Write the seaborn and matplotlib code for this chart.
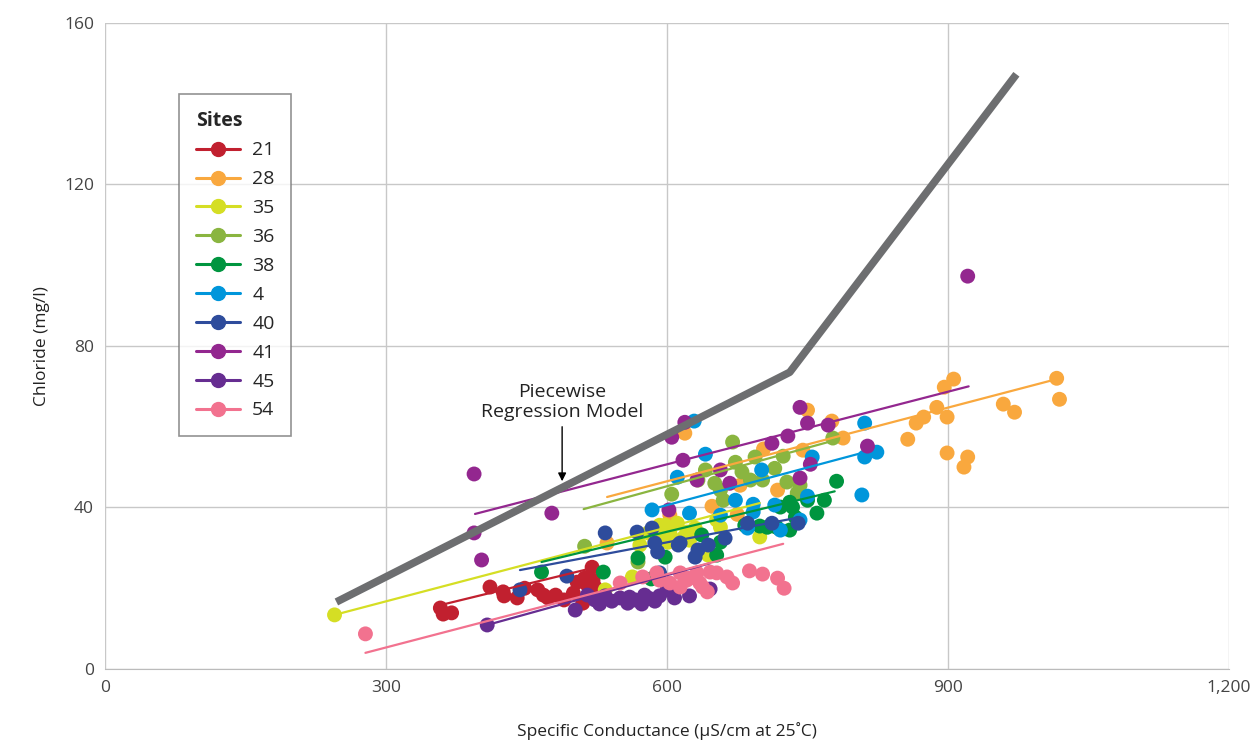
import pandas as pd
import numpy as np
import matplotlib
matplotlib.use('Agg')
import matplotlib.pyplot as plt
import seaborn as sns
from matplotlib.lines import Line2D

# Site order and colours as in the legend
sites = ['21', '28', '35', '36', '38', '4', '40', '41', '45', '54']
site_colors = ['#C1202F', '#F9A83E', '#D5DE24', '#8AB540', '#00953F',
               '#0096DB', '#2E4C9C', '#93278F', '#662D91', '#F2728F']

# Measured points (specific conductance, chloride) by site
sc_21 = [358, 361, 370, 411, 425, 426, 440, 448, 462, 468, 473, 481, 490, 500, 510, 512, 520, 515, 523, 521, 504]
cl_21 = [15.1, 13.6, 13.9, 20.3, 19.1, 18.1, 17.6, 20.0, 19.6, 18.3, 17.6, 18.3, 17.1, 18.8, 16.3, 22.5, 25.2, 20.8, 20.3, 22.0, 21.5]

sc_28 = [536, 603, 619, 648, 675, 678, 703, 718, 745, 750, 776, 788, 857, 866, 874, 888, 896, 906, 899, 899, 917, 921, 959, 971, 1016, 1019]
cl_28 = [31.2, 38.1, 58.4, 40.3, 38.3, 45.5, 54.5, 44.3, 54.2, 64.1, 61.4, 57.2, 56.9, 60.9, 62.4, 64.8, 69.8, 71.8, 62.4, 53.5, 50.0, 52.5, 65.6, 63.6, 72.0, 66.8]

sc_35 = [245, 534, 563, 580, 592, 596, 601, 611, 621, 624, 617, 630, 653, 657, 644, 603, 699, 587, 598, 571]
cl_35 = [13.4, 19.6, 22.8, 33.7, 35.6, 32.4, 31.4, 36.1, 33.9, 31.9, 32.4, 34.9, 36.9, 35.1, 28.2, 33.7, 32.7, 31.9, 35.6, 30.7]

sc_36 = [512, 569, 605, 633, 651, 670, 673, 680, 694, 702, 715, 724, 728, 739, 777, 657, 660, 689, 641, 742]
cl_36 = [30.4, 26.5, 43.3, 46.8, 46.0, 56.2, 51.2, 48.8, 52.5, 46.8, 49.7, 52.7, 46.3, 43.6, 57.2, 44.3, 41.8, 46.8, 49.3, 45.5]

sc_38 = [466, 532, 569, 583, 598, 653, 657, 637, 683, 699, 707, 717, 721, 731, 734, 737, 750, 760, 768, 781, 731]
cl_38 = [24.0, 24.0, 27.5, 22.3, 27.7, 28.2, 31.4, 33.2, 35.6, 35.4, 35.1, 35.1, 40.1, 41.3, 40.1, 37.6, 41.8, 38.6, 41.8, 46.5, 34.4]

sc_4 = [584, 611, 641, 629, 624, 692, 701, 692, 686, 721, 742, 750, 755, 811, 808, 811, 824, 657, 673, 715]
cl_4 = [39.4, 47.5, 53.2, 61.4, 38.6, 40.8, 49.3, 38.9, 34.9, 34.4, 36.9, 42.8, 52.5, 60.9, 43.1, 52.5, 53.7, 38.1, 41.8, 40.6]

sc_40 = [443, 493, 534, 568, 584, 587, 590, 614, 630, 633, 644, 662, 686, 592, 712, 740, 612]
cl_40 = [19.6, 23.0, 33.7, 33.9, 34.9, 31.2, 29.0, 31.2, 27.7, 29.5, 30.7, 32.4, 36.1, 23.8, 36.1, 36.1, 30.7]

sc_41 = [394, 394, 402, 477, 921, 605, 617, 619, 742, 750, 729, 712, 772, 814, 753, 742, 657, 632, 667, 602]
cl_41 = [33.7, 48.3, 27.0, 38.6, 97.3, 57.4, 51.7, 61.1, 64.8, 60.9, 57.7, 55.9, 60.4, 55.2, 50.7, 47.3, 49.3, 46.8, 46.0, 39.4]

sc_45 = [408, 502, 515, 523, 534, 541, 550, 558, 566, 573, 580, 587, 592, 600, 608, 624, 646, 528, 560, 576]
cl_45 = [10.9, 14.6, 18.3, 17.1, 18.1, 16.8, 17.6, 16.3, 17.1, 16.1, 17.6, 16.8, 18.1, 19.6, 17.6, 18.1, 19.8, 16.1, 17.8, 18.3]

sc_54 = [278, 550, 574, 589, 603, 614, 621, 632, 638, 646, 653, 664, 670, 688, 702, 718, 725, 643, 635, 614, 592, 624]
cl_54 = [8.7, 21.3, 22.8, 23.8, 21.3, 23.8, 22.0, 23.8, 20.3, 24.0, 23.8, 22.8, 21.3, 24.3, 23.5, 22.5, 20.0, 19.1, 21.3, 20.3, 22.0, 22.5]

# Fitted line end points for each site
fit_sc0 = [363, 536, 245, 511, 466, 584, 443, 395, 408, 278]
fit_sc1 = [515, 1016, 699, 783, 779, 808, 740, 922, 646, 724]
fit_cl0 = [16.1, 42.6, 13.4, 39.6, 26.5, 39.6, 24.5, 38.4, 10.9, 4.0]
fit_cl1 = [24.7, 71.8, 41.1, 56.9, 44.0, 53.5, 37.5, 70.0, 26.2, 31.0]

# Piecewise regression model vertices
pw_sc = [247, 731, 973]
pw_cl = [16.6, 73.5, 147.3]

sc_all = [sc_21, sc_28, sc_35, sc_36, sc_38, sc_4, sc_40, sc_41, sc_45, sc_54]
cl_all = [cl_21, cl_28, cl_35, cl_36, cl_38, cl_4, cl_40, cl_41, cl_45, cl_54]

frames = []
for site, sc, cl in zip(sites, sc_all, cl_all):
    frames.append(pd.DataFrame({'Site': site, 'SC': sc, 'Chloride': cl}))
df = pd.concat(frames, ignore_index=True)

fits = pd.DataFrame({
    'Site': sites * 2,
    'SC': fit_sc0 + fit_sc1,
    'Chloride': fit_cl0 + fit_cl1,
})

sns.set_style('white')
plt.rcParams['font.family'] = ['Open Sans', 'DejaVu Sans']

palette = dict(zip(sites, site_colors))

fig = plt.figure(figsize=(12.55, 7.42), dpi=100)
ax = fig.add_axes([0.0837, 0.0984, 0.8956, 0.8706])

sns.scatterplot(data=df, x='SC', y='Chloride', hue='Site', hue_order=sites,
                palette=palette, s=115, linewidth=0, legend=False, ax=ax, zorder=3)
sns.lineplot(data=fits, x='SC', y='Chloride', hue='Site', hue_order=sites,
             palette=palette, linewidth=1.6, legend=False, ax=ax, zorder=4,
             estimator=None, sort=False)
ax.plot(pw_sc, pw_cl, color='#6D6E70', linewidth=5.5, solid_capstyle='butt', zorder=5)

ax.annotate('Piecewise\nRegression Model', xy=(488, 46.5), xytext=(488, 61.5),
            ha='center', va='bottom', fontsize=14, color='#222222', linespacing=1.15,
            arrowprops=dict(arrowstyle='-|>', color='black', lw=1.0,
                            mutation_scale=12, shrinkA=2, shrinkB=0))

ax.set_xlim(0, 1200)
ax.set_ylim(0, 160)
ax.set_xticks([0, 300, 600, 900, 1200])
ax.set_xticklabels(['0', '300', '600', '900', '1,200'])
ax.set_yticks([0, 40, 80, 120, 160])
ax.grid(True, color='#C8C8C8', linewidth=1.0)
ax.set_axisbelow(True)
for side in ['top', 'right', 'left']:
    ax.spines[side].set_visible(False)
ax.spines['bottom'].set_color('#BBBBBB')
ax.tick_params(axis='both', length=0, labelsize=12.5, labelcolor='#444444', pad=8)

ax.set_xlabel('Specific Conductance (µS/cm at 25˚C)', fontsize=12.5, color='#222222', labelpad=19)
ax.set_ylabel('Chloride (mg/l)', fontsize=12.5, color='#222222', labelpad=10)

handles = [Line2D([0], [0], color=c, marker='o', markersize=10, linewidth=2.2)
           for c in site_colors]
leg = ax.legend(handles, sites, title='Sites', loc='upper left',
                bbox_to_anchor=(0.066, 0.89), frameon=True, fancybox=False,
                fontsize=14, handlelength=2.3, labelspacing=0.56,
                borderpad=0.85, handletextpad=0.6, borderaxespad=0)
leg.get_title().set_fontweight('bold')
leg.get_title().set_fontsize(14)
leg._legend_box.align = 'left'
leg.get_frame().set_edgecolor('#777777')
leg.get_frame().set_linewidth(1.2)

fig.savefig('out.png', dpi=100)
